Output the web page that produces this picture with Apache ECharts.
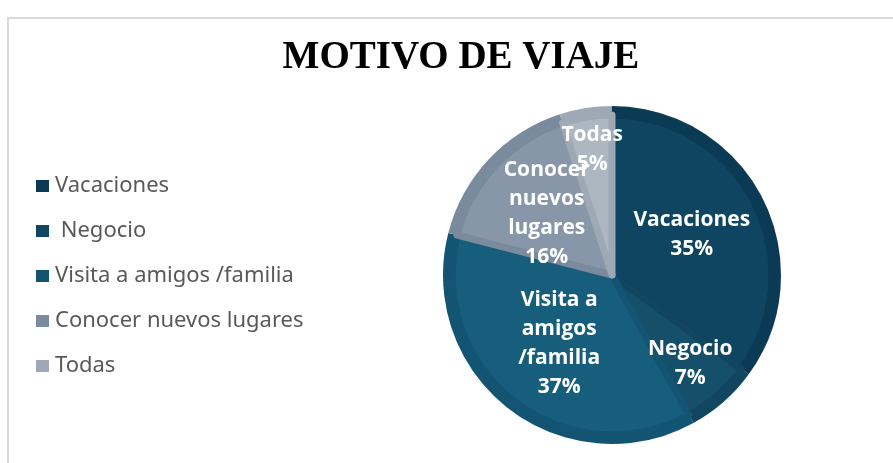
<!DOCTYPE html>
<html>
<head>
<meta charset="utf-8">
<script src="https://cdn.jsdelivr.net/npm/echarts@6/dist/echarts.min.js"></script>
<style>
  html, body { margin: 0; padding: 0; background: #fff; }
  #chart { width: 893px; height: 463px; }
</style>
</head>
<body>
<div id="chart"></div>
<script>
// datos del grafico
const categories = ["Vacaciones", " Negocio", "Visita a amigos /familia", "Conocer nuevos lugares", "Todas"];
const labelNames = ["Vacaciones", "Negocio", "Visita a\namigos\n/familia", "Conocer\nnuevos\nlugares", "Todas"];
const values = [35, 7, 37, 16, 5];
const innerColors = ["#0f4560", "#164f69", "#175d7c", "#8797a9", "#adb7c2"];
const rimColors = ["#0b3a54", "#124560", "#145473", "#798b9d", "#9ea9b5"];
// distancia de la etiqueta al centro (fraccion del radio)
const labelDist = [0.53, 0.7, 0.51, 0.53, 0.75];

const cx = 612, cy = 275, R = 169;
const total = values.reduce((a, b) => a + b, 0);

const chart = echarts.init(document.getElementById("chart"));

const baseData = categories.map((name, i) => ({
  name: name,
  value: values[i],
  itemStyle: { color: rimColors[i] },
}));

const topData = categories.map((name, i) => ({
  name: name,
  value: values[i],
  itemStyle: { color: innerColors[i], borderColor: rimColors[i], borderWidth: 7 },
  label: { formatter: labelNames[i] + "\n" + values[i] + "%" },
}));

// angulo medio de cada porcion, desde las 12 en sentido horario
function midAngle(i) {
  let acc = 0;
  for (let k = 0; k < i; k++) acc += values[k];
  return ((acc + values[i] / 2) / total) * Math.PI * 2;
}

chart.setOption({
  animation: false,
  title: {
    text: "MOTIVO DE VIAJE",
    left: 456,
    top: 33,
    textAlign: "center",
    textStyle: {
      fontFamily: "Liberation Serif",
      fontWeight: "bold",
      fontSize: 39,
      color: "#000",
    },
  },
  graphic: [
    {
      type: "polyline",
      shape: { points: [[8, 463], [8, 18], [893, 18]] },
      style: { stroke: "#d9d9d9", lineWidth: 2, fill: null },
    },
  ],
  legend: {
    orient: "vertical",
    left: 31,
    top: 170,
    itemWidth: 13,
    itemHeight: 12,
    itemGap: 23,
    icon: "rect",
    data: categories.map((name, i) => ({ name: name, itemStyle: { color: rimColors[i] } })),
    textStyle: { fontFamily: "Noto Sans", fontSize: 22, color: "#595959", padding: [0, 0, 0, 1] },
  },
  series: [
    {
      type: "pie",
      center: [cx, cy],
      radius: [0, R],
      startAngle: 90,
      clockwise: true,
      silent: true,
      label: { show: false },
      labelLine: { show: false },
      data: baseData,
    },
    {
      type: "pie",
      center: [cx, cy],
      radius: [0, R - 9],
      startAngle: 90,
      clockwise: true,
      silent: true,
      avoidLabelOverlap: false,
      label: {
        show: true,
        position: "inner",
        color: "#fff",
        fontFamily: "Open Sans",
        fontWeight: "bold",
        fontSize: 21,
        lineHeight: 29,
      },
      labelLine: { show: false },
      labelLayout: function (params) {
        const i = params.dataIndex;
        const a = midAngle(i);
        const d = labelDist[i] * R;
        return {
          x: cx + d * Math.sin(a),
          y: cy - d * Math.cos(a),
          align: "center",
          verticalAlign: "middle",
          hideOverlap: false,
        };
      },
      data: topData,
    },
  ],
});
</script>
</body>
</html>
